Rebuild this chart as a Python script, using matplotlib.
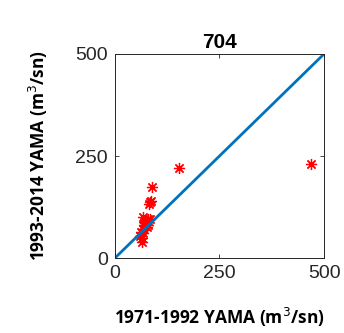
import matplotlib.pyplot as plt

# 1971-1992 vs 1993-2014 flood peaks (m3/sn) for station 704
x_old = [469, 154, 88, 84, 86, 82, 64, 60, 62, 68, 70, 72, 66, 74, 78, 80, 76, 70, 65, 72, 80, 85, 68]
y_new = [230, 220, 175, 137, 140, 132, 40, 55, 65, 70, 80, 85, 62, 90, 95, 92, 75, 88, 48, 78, 82, 96, 100]
ref_line = [0, 500]
ticks = [0, 250, 500]

fig = plt.figure(figsize=(3.44, 3.33), dpi=100)
ax = fig.add_axes([0.334, 0.225, 0.608, 0.613])

ax.plot(x_old, y_new, linestyle='none', marker=(8, 2, 0), markersize=8,
        markeredgewidth=0.9, color='red')
ax.plot(ref_line, ref_line, color=(0, 0.447, 0.741), linewidth=2)

ax.set_xlim(0, 500)
ax.set_ylim(0, 500)
ax.set_xticks(ticks)
ax.set_yticks(ticks)
ax.tick_params(direction='in', length=3, width=0.6, top=True, right=True,
               labelsize=14, labelcolor='#262626', color='#262626', pad=5)
for sp in ax.spines.values():
    sp.set_linewidth(0.7)
    sp.set_color('#262626')
for lab in ax.get_xticklabels() + ax.get_yticklabels():
    lab.set_family('Liberation Sans')

ax.set_title('704', fontsize=15, fontweight='bold', family='Liberation Sans', pad=4)
ax.set_xlabel('1971-1992 YAMA (m$^3$/sn)', fontsize=12.5, fontweight='bold',
              family='Open Sans', labelpad=17)
ax.set_ylabel('1993-2014 YAMA (m$^3$/sn)', fontsize=12.5, fontweight='bold',
              family='Open Sans', labelpad=18)

fig.savefig('out.png', dpi=100)
